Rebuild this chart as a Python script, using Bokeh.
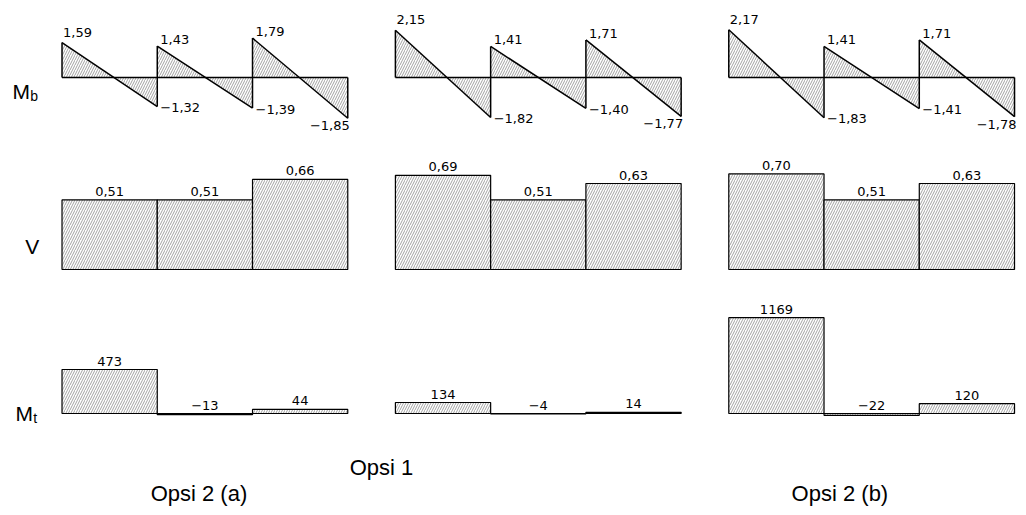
from bokeh.plotting import figure
from bokeh.models import Range1d
from bokeh.embed import file_html
from bokeh.resources import INLINE
from bokeh.core.properties import value

# ---------------- data ----------------
options = ["Opsi 2 (a)", "Opsi 1", "Opsi 2 (b)"]
spans = [0, 1, 2]

# bending moment Mb at left / right end of each span
mb_left_a = [1.59, 1.43, 1.79]
mb_right_a = [-1.32, -1.39, -1.85]
mb_left_1 = [2.15, 1.41, 1.71]
mb_right_1 = [-1.82, -1.40, -1.77]
mb_left_b = [2.17, 1.41, 1.71]
mb_right_b = [-1.83, -1.41, -1.78]

# shear V per span
v_a = [0.51, 0.51, 0.66]
v_1 = [0.69, 0.51, 0.63]
v_b = [0.70, 0.51, 0.63]

# torsion Mt per span
mt_a = [473, -13, 44]
mt_1 = [134, -4, 14]
mt_b = [1169, -22, 120]

row_labels = ["M", "V", "M"]
row_subs = ["b", "", "t"]

# ---------------- layout ----------------
W, H = 1018, 507
XR = (0, 1026)
YR = (0, 507)
col_x0 = [62, 398, 734]
span_px = 96.0
mb_y0, mb_s = 77, 22.0
v_y0, v_s = 269, 136.5
mt_y0, mt_s = 413, [0.093, 0.082, 0.082]

NUM_FONT = value("DejaVu Sans")
NUM_SIZE = "13px"
LBL_FONT = value("Liberation Sans")
HATCH = dict(hatch_pattern="/", hatch_scale=5, hatch_weight=0.55, hatch_color="#555555")

p = figure(width=W, height=H, output_backend="svg", toolbar_location=None,
           x_range=Range1d(*XR), y_range=Range1d(YR[1], YR[0]),
           x_axis_location=None, y_axis_location=None, min_border=0)
p.grid.visible = False
p.outline_line_color = None
p.background_fill_color = "white"


def yr(y0, s):
    return Range1d((y0 - YR[1]) / s, (y0 - YR[0]) / s)


def fmt(v):
    return f"{v:.2f}".replace(".", ",").replace("-", "\u2212")


cols = [
    (mb_left_a, mb_right_a, v_a, mt_a),
    (mb_left_1, mb_right_1, v_1, mt_1),
    (mb_left_b, mb_right_b, v_b, mt_b),
]

for c, (ml, mr, vv, mt) in enumerate(cols):
    xn = f"x{c}"
    p.extra_x_ranges[xn] = Range1d((XR[0] - col_x0[c]) / span_px, (XR[1] - col_x0[c]) / span_px)
    mbn, vn, mtn = f"mb{c}", f"v{c}", f"mt{c}"
    p.extra_y_ranges[mbn] = yr(mb_y0, mb_s)
    p.extra_y_ranges[vn] = yr(v_y0, v_s)
    p.extra_y_ranges[mtn] = yr(mt_y0, mt_s[c])

    # ---- Mb ----
    pxs, pys = [], []
    for i in spans:
        f = ml[i] / (ml[i] - mr[i])
        pxs += [[i, i, i + f], [i + f, i + 1, i + 1]]
        pys += [[0, ml[i], 0], [0, mr[i], 0]]
    p.patches(pxs, pys, x_range_name=xn, y_range_name=mbn,
              fill_color="white", line_color=None, **HATCH)
    lx = [[0, 3]] + [[i, i + 1] for i in spans]
    ly = [[0, 0]] + [[ml[i], mr[i]] for i in spans]
    lx.append([0, 0]); ly.append([0, ml[0]])
    for k in (1, 2):
        lx.append([k, k]); ly.append([mr[k - 1], ml[k]])
    lx.append([3, 3]); ly.append([mr[2], 0])
    p.multi_line(lx, ly, x_range_name=xn, y_range_name=mbn, line_color="black", line_width=1.5)

    # Mb labels
    p.text(x=[0], y=[ml[0]], text=[fmt(ml[0])], x_range_name=xn, y_range_name=mbn,
           x_offset=1, y_offset=-6, text_baseline="bottom", text_align="left",
           text_font=NUM_FONT, text_font_size=NUM_SIZE, text_color="black")
    p.text(x=[1, 2], y=[ml[1], ml[2]], text=[fmt(ml[1]), fmt(ml[2])], x_range_name=xn, y_range_name=mbn,
           x_offset=3, y_offset=-2, text_baseline="bottom", text_align="left",
           text_font=NUM_FONT, text_font_size=NUM_SIZE, text_color="black")
    p.text(x=[1, 2], y=[mr[0], mr[1]], text=[fmt(mr[0]), fmt(mr[1])], x_range_name=xn, y_range_name=mbn,
           x_offset=3, y_offset=1, text_baseline="middle", text_align="left",
           text_font=NUM_FONT, text_font_size=NUM_SIZE, text_color="black")
    p.text(x=[3], y=[mr[2]], text=[fmt(mr[2])], x_range_name=xn, y_range_name=mbn,
           x_offset=2, y_offset=3, text_baseline="top", text_align="right",
           text_font=NUM_FONT, text_font_size=NUM_SIZE, text_color="black")

    # ---- V ----
    p.quad(left=spans, right=[i + 1 for i in spans], bottom=0, top=vv,
           x_range_name=xn, y_range_name=vn, fill_color="white",
           line_color="black", line_width=1.2, **HATCH)
    p.text(x=[i + 0.5 for i in spans], y=vv, text=[fmt(v) for v in vv],
           x_range_name=xn, y_range_name=vn, y_offset=-4, text_baseline="bottom",
           text_align="center", text_font=NUM_FONT, text_font_size=NUM_SIZE, text_color="black")

    # ---- Mt ----
    p.quad(left=spans, right=[i + 1 for i in spans], bottom=0, top=mt,
           x_range_name=xn, y_range_name=mtn, fill_color="white",
           line_color="black", line_width=1.2, **HATCH)
    p.text(x=[i + 0.5 for i in spans], y=[max(m, 0) for m in mt],
           text=[str(m).replace("-", "\u2212") for m in mt],
           x_range_name=xn, y_range_name=mtn, y_offset=-4, text_baseline="bottom",
           text_align="center", text_font=NUM_FONT, text_font_size=NUM_SIZE, text_color="black")

# ---- row labels ----
row_y = [91, 246, 413]
row_x = [12, 25, 15]
p.text(x=row_x, y=row_y, text=row_labels, text_font=LBL_FONT, text_font_size="21px",
       text_baseline="alphabetic", text_align="left", text_color="black")
p.text(x=[row_x[0] + 18, row_x[2] + 18], y=[row_y[0] + 4, row_y[2] + 4], text=[row_subs[0], row_subs[2]],
       text_font=LBL_FONT, text_font_size="14px", text_baseline="alphabetic",
       text_align="left", text_color="black")

# ---- option labels ----
p.text(x=[200, 384, 846], y=[493, 467, 493], text=options, text_font=LBL_FONT,
       text_font_size="22px", text_baseline="middle", text_align="center", text_color="black")

open("out.html", "w").write(file_html(p, INLINE))
